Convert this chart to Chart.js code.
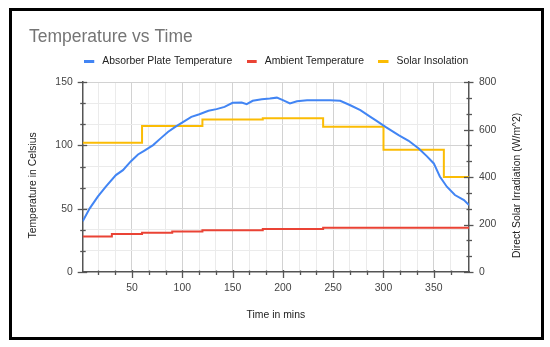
<!DOCTYPE html>
<html><head><meta charset="utf-8">
<script src="https://cdn.jsdelivr.net/npm/chart.js@4.4.1/dist/chart.umd.min.js"></script>
<style>
html,body{margin:0;padding:0;background:#fff;}
#wrap{position:relative;width:550px;height:347px;background:#fff;}
canvas{position:absolute;left:0;top:0;}
#frame{position:absolute;left:9px;top:8px;width:535px;height:332px;box-sizing:border-box;border:3px solid #000;pointer-events:none;}
</style></head><body>
<div id="wrap"><canvas id="c" width="550" height="347"></canvas><div id="frame"></div></div>
<script>
// ---- data ----
const timeMins = [1, 8, 16, 24, 34, 41, 49, 56, 62, 71, 79, 86, 93, 101, 109, 117, 126, 134, 142, 150, 159, 164, 170, 179, 187, 194, 200, 207, 214, 224, 234, 247, 257, 267, 277, 287, 292, 302, 315, 325, 335, 343, 350, 356, 363, 371, 380, 385];
const plateTemp = [40, 50.3, 59.5, 67.4, 76.6, 80.5, 87.6, 92.9, 95.8, 100.3, 106, 110.8, 114.7, 118.7, 122.6, 124.7, 127.4, 128.7, 130.5, 133.7, 134, 132.6, 135.3, 136.6, 137.1, 137.8, 135.8, 133.2, 135, 135.8, 135.8, 135.8, 135.3, 131.8, 127.9, 122.6, 120, 114.7, 108.2, 103.7, 97.6, 91.6, 85.8, 75.5, 67.4, 60.8, 56.8, 52.9];
const ambientTimes = [1, 30, 60, 90, 120, 180, 240, 385];
const ambientTemp = [28, 30, 31, 32, 33, 34, 35, 35];
const solarTimes = [1, 60, 120, 180, 240, 300, 360, 385];
const solarIrr = [545, 615, 643, 648, 612, 515, 400, 400];
const seriesNames = ['Absorber Plate Temperature', 'Ambient Temperature', 'Solar Insolation'];
const seriesColors = ['#4285F4', '#EA4335', '#FBBC04'];
const timeTickLabels = [50, 100, 150, 200, 250, 300, 350];
const tempTickLabels = [0, 50, 100, 150];
const irrTickLabels = [0, 200, 400, 600, 800];

const FONT = 'Arial, "Liberation Sans", sans-serif';
Chart.defaults.font.family = FONT;

const isMult = (v, m) => Math.abs(v / m - Math.round(v / m)) < 1e-6;
const inList = (v, list) => list.some(l => Math.abs(l - v) < 1e-6);
const pts = (xs, ys) => xs.map((x, i) => ({x: x, y: ys[i]}));

function makeMarker(color) {
  const c = document.createElement('canvas');
  c.width = 13; c.height = 3;
  const g = c.getContext('2d');
  g.fillStyle = color; g.fillRect(0, 0, 10, 3);
  return c;
}
const markers = seriesColors.map(makeMarker);

const X_STEP = 50 / 3, Y_STEP = 50 / 3, Y1_STEP = 200 / 3;
const LEGEND_HEIGHT = 40.3;

// gives the legend box a fixed height so the plot starts where the reference does
const legendHeight = {
  id: 'legendHeight',
  beforeLayout(chart) {
    const lg = chart.legend;
    if (lg && !lg.__fixed) {
      const fit = lg.fit.bind(lg);
      lg.fit = function () { fit(); if (this.height > 0) this.height = LEGEND_HEIGHT; };
      lg.__fixed = true;
    }
  }
};

const decorations = {
  id: 'decorations',
  afterDraw(chart) {
    const ctx = chart.ctx;
    const sx = chart.scales.x, sy = chart.scales.y, sy1 = chart.scales.y1;
    ctx.save();
    ctx.strokeStyle = '#555';
    ctx.lineWidth = 1.3;
    const line = (x1, y1, x2, y2) => { ctx.beginPath(); ctx.moveTo(x1, y1); ctx.lineTo(x2, y2); ctx.stroke(); };
    sx.ticks.forEach(t => {
      if (!isMult(t.value, X_STEP)) return;
      const p = Math.round(sx.getPixelForValue(t.value)) + 0.5;
      const major = inList(t.value, timeTickLabels);
      line(p, sx.top - (major ? 2 : 1.5), p, sx.top + (major ? 6 : 3));
    });
    sy.ticks.forEach(t => {
      if (!isMult(t.value, Y_STEP)) return;
      const p = Math.round(sy.getPixelForValue(t.value)) + 0.5;
      const major = inList(t.value, tempTickLabels);
      line(sy.right - (major ? 5 : 2.5), p, sy.right + (major ? 4.5 : 3), p);
    });
    sy1.ticks.forEach(t => {
      if (!isMult(t.value, Y1_STEP)) return;
      const p = Math.round(sy1.getPixelForValue(t.value)) + 0.5;
      const major = inList(t.value, irrTickLabels);
      line(sy1.left - (major ? 5 : 2.5), p, sy1.left + (major ? 4.5 : 3), p);
    });
    // axis titles (rotated, reading bottom-to-top on both sides)
    ctx.fillStyle = '#222';
    ctx.font = '10.4px ' + FONT;
    ctx.textAlign = 'center';
    ctx.textBaseline = 'middle';
    const cy = (chart.chartArea.top + chart.chartArea.bottom) / 2 + 8.3;
    [[sy, sy.left + 4.2], [sy1, sy1.left + 47.7]].forEach(([s, x]) => {
      ctx.save();
      ctx.translate(x, cy);
      ctx.rotate(-Math.PI / 2);
      ctx.fillText(s.options.title.text, 0, 0);
      ctx.restore();
    });
    ctx.restore();
  }
};

const gridColor = (c) => {
  if (!c.tick) return 'rgba(0,0,0,0)';
  const v = c.tick.value;
  if (c.scale.id === 'x') {
    if (!isMult(v, X_STEP) || Math.abs(v) < 1e-6) return 'rgba(0,0,0,0)';
    return inList(v, timeTickLabels) ? '#d2d2d2' : '#ebebeb';
  }
  if (!isMult(v, Y_STEP) || Math.abs(v) < 1e-6) return 'rgba(0,0,0,0)';
  return inList(v, tempTickLabels) ? '#d2d2d2' : '#ebebeb';
};

new Chart(document.getElementById('c'), {
  type: 'line',
  data: {
    datasets: [
      { label: seriesNames[0], data: pts(timeMins, plateTemp), yAxisID: 'y', borderColor: seriesColors[0], backgroundColor: seriesColors[0], borderWidth: 2, pointRadius: 0, tension: 0 },
      { label: seriesNames[1], data: pts(ambientTimes, ambientTemp), yAxisID: 'y', borderColor: seriesColors[1], backgroundColor: seriesColors[1], borderWidth: 2, pointRadius: 0, stepped: true },
      { label: seriesNames[2], data: pts(solarTimes, solarIrr), yAxisID: 'y1', borderColor: seriesColors[2], backgroundColor: seriesColors[2], borderWidth: 2, pointRadius: 0, stepped: true }
    ]
  },
  options: {
    responsive: false,
    animation: false,
    devicePixelRatio: 1,
    events: [],
    layout: { padding: { left: 29, right: 26.5, top: 1.2, bottom: 20 } },
    plugins: {
      title: {
        display: true, text: 'Temperature vs Time', align: 'start', color: '#757575',
        font: { size: 17.5, weight: 'normal', lineHeight: 1.2 },
        padding: { top: 25.1, bottom: -5.4 }
      },
      legend: {
        position: 'top', align: 'center',
        labels: {
          usePointStyle: true, pointStyleWidth: 12.8, padding: 14.5, color: '#222',
          font: { size: 10.4 },
          generateLabels(chart) {
            const items = Chart.defaults.plugins.legend.labels.generateLabels(chart);
            items.forEach((it, i) => { it.pointStyle = markers[i]; it.lineWidth = 0; it.fontColor = '#222'; });
            return items;
          }
        }
      },
      tooltip: { enabled: false }
    },
    scales: {
      x: {
        type: 'linear', position: 'bottom', min: 1, max: 385,
        afterFit: (s) => { s.height = 55; },
        ticks: {
          stepSize: X_STEP, autoSkip: false, maxRotation: 0, minRotation: 0, padding: 10.2,
          color: '#444', font: { size: 10.4 },
          callback: (v) => inList(v, timeTickLabels) ? String(Math.round(v)) : ''
        },
        grid: { color: gridColor, drawTicks: false, lineWidth: 1 },
        border: { color: '#555', width: 1.5 },
        title: { display: true, text: 'Time in mins', color: '#222', font: { size: 10.4 }, padding: { top: 0, bottom: 6.06 } }
      },
      y: {
        type: 'linear', position: 'left', min: 0, max: 150,
        afterFit: (s) => { s.width = 53.7; },
        ticks: {
          stepSize: Y_STEP, autoSkip: false, padding: 10, color: '#444', font: { size: 10.4 },
          callback: (v) => inList(v, tempTickLabels) ? String(Math.round(v)) : ''
        },
        grid: { color: gridColor, drawTicks: false, lineWidth: 1 },
        border: { color: '#555', width: 1.5 },
        title: { display: false, text: 'Temperature in Celsius' }
      },
      y1: {
        type: 'linear', position: 'right', min: 0, max: 800,
        afterFit: (s) => { s.width = 54.5; },
        ticks: {
          stepSize: Y1_STEP, autoSkip: false, padding: 10, color: '#444', font: { size: 10.4 },
          callback: (v) => inList(v, irrTickLabels) ? String(Math.round(v)) : ''
        },
        grid: { drawOnChartArea: false, drawTicks: false },
        border: { color: '#555', width: 1.5 },
        title: { display: false, text: 'Direct Solar Irradiation (W/m^2)' }
      }
    }
  },
  plugins: [legendHeight, decorations]
});
</script>
</body></html>
